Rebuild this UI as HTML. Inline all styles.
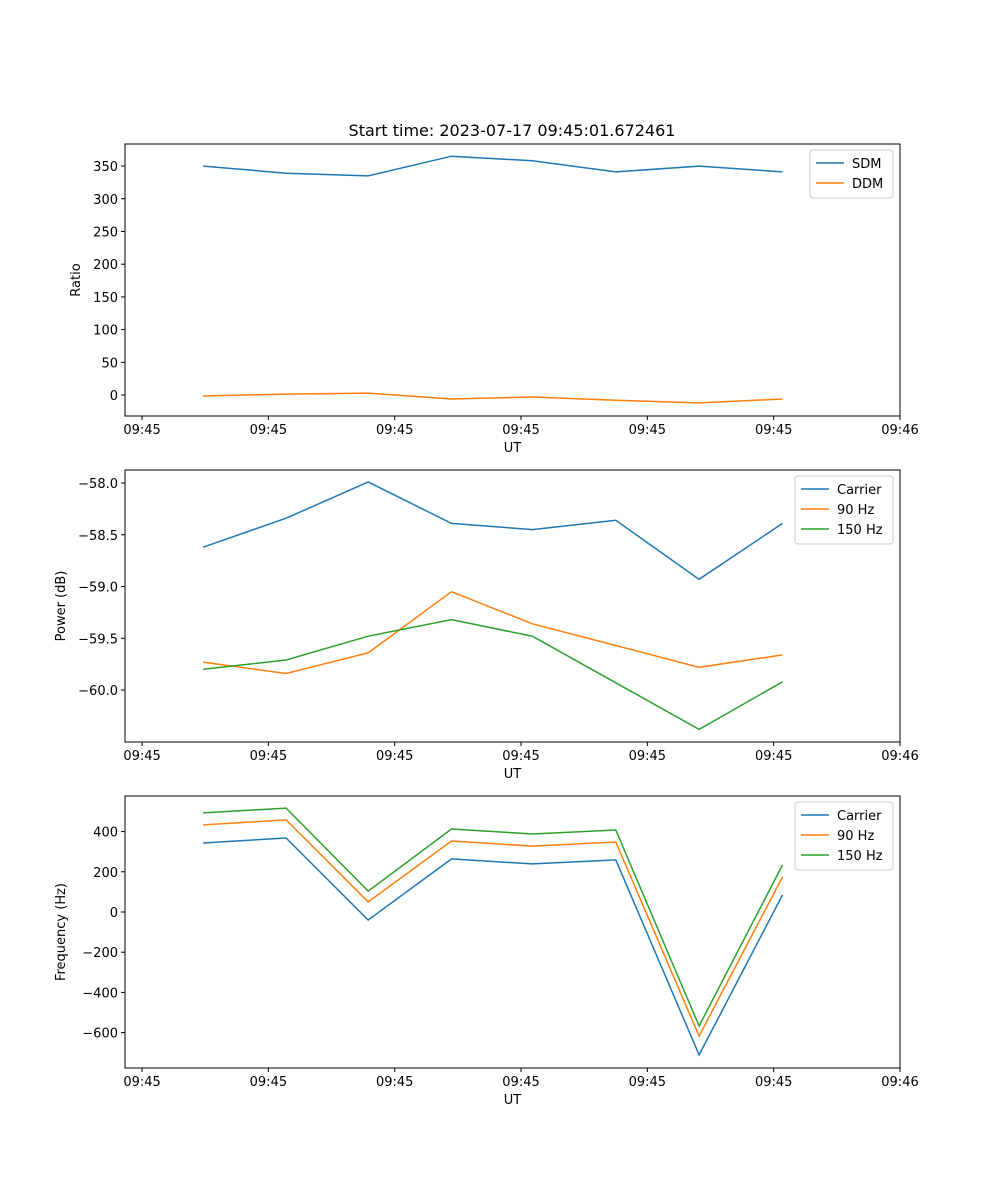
<!DOCTYPE html>
<html><head><meta charset="utf-8"><style>
html,body{margin:0;padding:0;background:#fff;}
svg{display:block;font-family:"DejaVu Sans","Liberation Sans",sans-serif;}
</style></head><body>
<svg id="chart" width="1000" height="1200" viewBox="0 0 1000 1200">
<text x="512" y="136" text-anchor="middle" font-size="16">Start time: 2023-07-17 09:45:01.672461</text>
</svg>
<script>
const xTimes = [4.83, 11.4, 17.9, 24.5, 30.9, 37.5, 44.1, 50.7];
const xTickValues = [0, 10, 20, 30, 40, 50, 60];
const xTickLabels = ["09:45","09:45","09:45","09:45","09:45","09:45","09:46"];
const sdm = [350, 339, 335, 365, 358, 341, 350, 341];
const ddm = [-1.5, 1.5, 3, -6, -3, -8, -12, -6];
const powCarrier = [-58.62, -58.34, -57.99, -58.39, -58.45, -58.36, -58.93, -58.39];
const pow90 = [-59.73, -59.84, -59.64, -59.05, -59.36, -59.57, -59.78, -59.66];
const pow150 = [-59.80, -59.71, -59.48, -59.32, -59.48, -59.93, -60.38, -59.92];
const freqCarrier = [343, 368, -40, 264, 239, 259, -711, 85];
const freq90 = [433, 458, 50, 353, 328, 348, -617, 174];
const freq150 = [493, 517, 104, 413, 388, 408, -567, 234];
const ratioTicks = [0, 50, 100, 150, 200, 250, 300, 350];
const powerTicks = [-60.0, -59.5, -59.0, -58.5, -58.0];
const freqTicks = [-600, -400, -200, 0, 200, 400];

const NS = "http://www.w3.org/2000/svg";
const svg = document.getElementById("chart");
const C = {blue:"#1f77b4", orange:"#ff7f0e", green:"#2ca02c"};
function mk(tag, attrs, parent){
  const e = document.createElementNS(NS, tag);
  for (const k in attrs) e.setAttribute(k, attrs[k]);
  (parent||svg).appendChild(e);
  return e;
}
const L = 125, R = 900, X0 = -1.35, X1 = 60;
function xs(v){ return L + (v - X0) / (X1 - X0) * (R - L); }

function panel(key, top, bottom, ymin, ymax, yTicks, yFmt, yLabel, series, legend){
  const ys = v => bottom - (v - ymin) / (ymax - ymin) * (bottom - top);
  const g = mk("g", {});
  
  
  series.forEach(s => {
    const p = mk("polyline", {points: s.data.map((v,i)=>xs(xTimes[i]).toFixed(1)+","+ys(v).toFixed(1)).join(" "), fill:"none", stroke:s.color, "stroke-width":1.5}, g);
    
    
  });
  const fr = mk("rect", {x:L, y:top, width:R-L, height:bottom-top, fill:"none", stroke:"#000", "stroke-width":1}, g);
  
  
  xTickValues.forEach((v,i) => {
    const x = xs(v);
    mk("line", {x1:x, x2:x, y1:bottom, y2:bottom+4, stroke:"#000"}, g);
    const t = mk("text", {x:x, y:bottom+18, "text-anchor":"middle", "font-size":13}, g);
    t.textContent = xTickLabels[i];
    
    
  });
  yTicks.forEach(v => {
    const y = ys(v);
    mk("line", {x1:L-4, x2:L, y1:y, y2:y, stroke:"#000"}, g);
    const t = mk("text", {x:L-7, y:y+5, "text-anchor":"end", "font-size":13}, g);
    t.textContent = yFmt(v);
    
    
  });
  const xl = mk("text", {x:(L+R)/2, y:bottom+36, "text-anchor":"middle", "font-size":13}, g);
  xl.textContent = "UT";
  
  
  const ylx = key === "ratio" ? 80 : 65;
  const yl = mk("text", {x:ylx, y:(top+bottom)/2, "text-anchor":"middle", "font-size":13, transform:`rotate(-90 ${ylx} ${(top+bottom)/2})`}, g);
  yl.textContent = yLabel;
  
  
  const lg = mk("g", {}, g);
  
  
  mk("rect", {x:legend.x, y:legend.y, width:legend.w, height:series.length*20+8, rx:3, fill:"#fff", stroke:"#ccc", "fill-opacity":0.8}, lg);
  series.forEach((s,i) => {
    const yy = legend.y + 13 + i*20;
    mk("line", {x1:legend.x+6, x2:legend.x+34, y1:yy, y2:yy, stroke:s.color, "stroke-width":1.5}, lg);
    const t = mk("text", {x:legend.x+42, y:yy+5, "font-size":13}, lg);
    t.textContent = s.label;
    
    
  });
}
panel("ratio", 144, 416, -32, 383.7, ratioTicks, v=>String(v), "Ratio",
  [{id:"sdm", label:"SDM", data:sdm, color:C.blue},{id:"ddm", label:"DDM", data:ddm, color:C.orange}],
  {x:810, y:150, w:83});
panel("power", 470, 742, -60.502, -57.874, powerTicks, v=>"\u2212"+Math.abs(v).toFixed(1), "Power (dB)",
  [{id:"carrier", label:"Carrier", data:powCarrier, color:C.blue},{id:"90hz", label:"90 Hz", data:pow90, color:C.orange},{id:"150hz", label:"150 Hz", data:pow150, color:C.green}],
  {x:795, y:476, w:98});
panel("freq", 796, 1068, -776, 577, freqTicks, v=>(v<0?"\u2212":"")+Math.abs(v), "Frequency (Hz)",
  [{id:"carrier", label:"Carrier", data:freqCarrier, color:C.blue},{id:"90hz", label:"90 Hz", data:freq90, color:C.orange},{id:"150hz", label:"150 Hz", data:freq150, color:C.green}],
  {x:795, y:802, w:98});
</script>
</body></html>
